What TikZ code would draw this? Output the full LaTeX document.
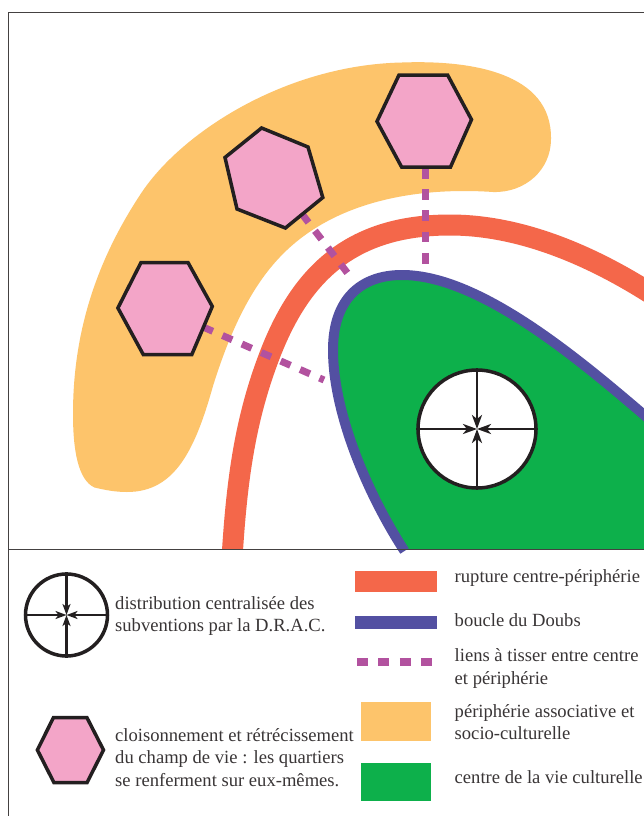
\documentclass[tikz,border=0pt]{standalone}
\usepackage{fontspec}
\setmainfont{Liberation Serif}
\usetikzlibrary{arrows.meta}
\definecolor{orangeC}{HTML}{FDC46B}
\definecolor{redC}{HTML}{F4674A}
\definecolor{blueC}{HTML}{5350A2}
\definecolor{greenC}{HTML}{0DB04B}
\definecolor{pinkC}{HTML}{F3A5C8}
\definecolor{purpleC}{HTML}{B2529F}
\definecolor{blackC}{HTML}{231F20}
\tikzset{
  hexa/.style={fill=pinkC,draw=blackC,line width=3.5pt,line join=miter},
  linkline/.style={draw=purpleC,line width=7pt,dash pattern=on 10.7pt off 10.5pt},
  redline/.style={draw=redC,line width=21pt},
  blueline/.style={draw=blueC,line width=10pt},
  frameline/.style={draw=blackC!85,line width=0.9pt},
  spoke/.style={draw=blackC,line width=2.8pt,-{Stealth[length=14pt,width=10pt,inset=4pt]}},
  spokesmall/.style={draw=blackC,line width=2.2pt,-{Stealth[length=11pt,width=8pt,inset=3pt]}},
  disc/.style={fill=white,draw=blackC,line width=3.5pt},
  legtext/.style={anchor=base west,inner sep=0pt,font=\fontsize{18.6}{22}\selectfont,text=blackC!90},
}
\begin{document}
\begin{tikzpicture}[x=1pt,y=-1pt]
\useasboundingbox (0,0) rectangle (644,816);
\fill[white] (0,0) rectangle (644,816);
% main map
\begin{scope}
\clip (8,12) rectangle (644,549);
\fill[orangeC] (402,62.5) .. controls (470,60) and (552,72) .. (551,139)
  .. controls (551,170) and (525,193) .. (493,192)
  .. controls (420,187) and (340,200) .. (287,250)
  .. controls (255,280) and (232,325) .. (213,386)
  .. controls (195,450) and (175,492) .. (127,492)
  .. controls (115,492) and (105,490) .. (94.5,487.5)
  .. controls (78,480) and (73,450) .. (73,414)
  .. controls (73,340) and (92,268) .. (140,195)
  .. controls (180,133) and (285,65) .. (402,62.5) -- cycle;
\fill[greenC] (404.5,551) .. controls (365,490) and (333,410) .. (333,350)
  .. controls (333,300) and (360,275) .. (402,275)
  .. controls (480,275) and (580,360) .. (650,420) -- (650,551) -- cycle;
\draw[redline] (232.4,552) .. controls (237,480) and (245,420) .. (269,357)
  .. controls (300,275) and (350,225) .. (450,225)
  .. controls (520,225) and (590,255) .. (650,293);
\end{scope}
\begin{scope}
\clip (8,12) rectangle (644,560);
\draw[blueline] (404.5,551) .. controls (365,490) and (333,410) .. (333,350)
  .. controls (333,300) and (360,275) .. (402,275)
  .. controls (480,275) and (580,360) .. (650,420);
\end{scope}
% links
\coordinate (l1a) at (203,327); \coordinate (l1b) at (324,380);
\coordinate (l2a) at (302,214); \coordinate (l2b) at (349,275);
\coordinate (l3a) at (425,168); \coordinate (l3b) at (425,265);
\draw[linkline] (l1a) -- (l1b);
\draw[linkline] (l2a) -- (l2b);
\draw[linkline] (l3a) -- (l3b);
% hexagons
\draw[hexa] (399,75) -- (447.6,75) -- (471.5,119.6) -- (450.5,167) -- (401.6,167) -- (377,121.4) -- cycle;
\draw[hexa] (261.6,128) -- (308,147) -- (322.8,197.5) -- (285.4,228) -- (237,209) -- (225,157.5) -- cycle;
\draw[hexa] (141,262.5) -- (188,262.5) -- (212.3,306.4) -- (191.8,354.6) -- (143.3,354.6) -- (117.9,308) -- cycle;
% central disc
\node[circle,minimum size=118pt,inner sep=0pt,disc] (c1) at (477,429) {};
\coordinate (c1m) at (477,429);
\draw[spoke] (c1.north) -- (c1m);
\draw[spoke] (c1.south) -- (c1m);
\draw[spoke] (c1.west) -- (c1m);
\draw[spoke] (c1.east) -- (c1m);
% frame
\draw[frameline] (644,12) -- (8,12) -- (8,816);
\draw[frameline] (8,549) -- (644,549);
% legend
\node[circle,minimum size=82pt,inner sep=0pt,disc] (c2) at (66.5,615) {};
\coordinate (c2m) at (66.5,615);
\draw[spokesmall] (c2.north) -- (c2m);
\draw[spokesmall] (c2.south) -- (c2m);
\draw[spokesmall] (c2.west) -- (c2m);
\draw[spokesmall] (c2.east) -- (c2m);
\draw[hexa] (53.4,717.7) -- (87,717.7) -- (103.5,750) -- (87,782.7) -- (54,782.7) -- (37.4,750) -- cycle;
\fill[redC] (354.5,570.7) rectangle (437,591.7);
\fill[blueC] (354.5,615.7) rectangle (437,628.7);
\coordinate (la) at (357,662); \coordinate (lb) at (432,662);
\draw[purpleC,line width=8pt,dash pattern=on 10.7pt off 10.7pt] (la) -- (lb);
\fill[orangeC] (361,702) rectangle (431,741);
\fill[greenC] (361,763) rectangle (431,801);
\node[legtext] (t1) at (115,609) {distribution centralisée des};
\node[legtext] (t2) at (115,631) {subventions par la D.R.A.C.};
\node[legtext] (t3) at (115,741) {cloisonnement et rétrécissement};
\node[legtext] (t4) at (115,763) {du champ de vie : les quartiers};
\node[legtext] (t5) at (115,786) {se renferment sur eux-mêmes.};
\node[legtext] (t6) at (454.5,582) {rupture centre-périphérie};
\node[legtext] (t7) at (454.5,626) {boucle du Doubs};
\node[legtext] (t8) at (454.5,661) {liens à tisser entre centre};
\node[legtext] (t9) at (454.5,684) {et périphérie};
\node[legtext] (t10) at (454.5,717) {périphérie associative et};
\node[legtext] (t11) at (454.5,739) {socio-culturelle};
\node[legtext] (t12) at (454.5,783) {centre de la vie culturelle};
\end{tikzpicture}
\end{document}
